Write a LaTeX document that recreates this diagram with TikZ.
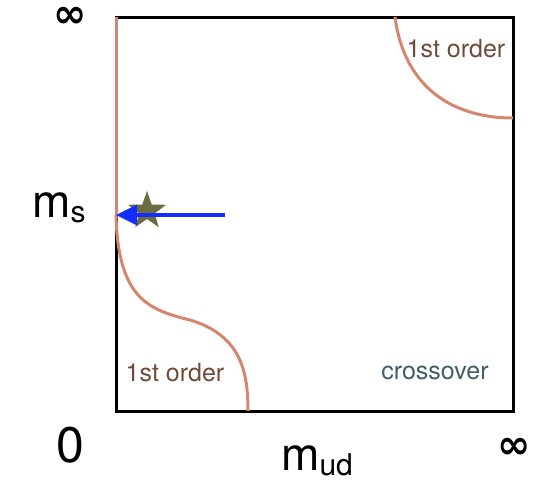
\documentclass[tikz,border=0pt]{standalone}
\usepackage{fontspec}
\setmainfont{TeX Gyre Heros}
\newfontfamily\symfont{DejaVu Sans}
\usetikzlibrary{arrows.meta,shapes.geometric}
\definecolor{linecol}{RGB}{212,134,110}
\definecolor{ordercol}{RGB}{112,74,56}
\definecolor{crosscol}{RGB}{62,94,104}
\definecolor{starcol}{RGB}{108,108,62}
\definecolor{arrowcol}{RGB}{20,45,255}
\begin{document}
\begin{tikzpicture}[x=1pt,y=-1pt,
  bigl/.style={font=\fontsize{46}{50}\selectfont, inner sep=0pt},
  inf/.style={font=\symfont\bfseries\fontsize{40}{44}\selectfont, inner sep=0pt},
  regl/.style={font=\fontsize{25}{30}\selectfont, inner sep=0pt},
  trans/.style={draw=linecol, line width=3pt}]
\useasboundingbox (0,0) rectangle (538,481);
% frame
\coordinate (tl) at (116,18);
\coordinate (br) at (513,411);
\draw[line width=3pt] (tl) rectangle (br);
% transition lines
\coordinate (ms) at (116,215);
\coordinate (topL) at (116,17);
\coordinate (botE) at (248,411);
\coordinate (trA) at (395,17);
\coordinate (trB) at (513,118);
\draw[trans] (topL) -- (ms);
\draw[trans] (ms) .. controls (118,300) and (150,310) .. (190,320)
  .. controls (240,335) and (248,370) .. (botE);
\draw[trans] (trA) .. controls (403,80) and (445,118) .. (trB);
% star and arrow
\node[star, star points=5, star point ratio=2.5, minimum size=40pt, inner sep=0pt, fill=starcol] (star) at (147,211) {};
\coordinate (arrS) at (225,215);
\coordinate (arrE) at (116,215);
\draw[arrowcol, line width=3.5pt, -{Triangle[length=21pt,width=20pt]}] (arrS) -- (arrE);
% labels
\node[inf] (inftop) at (70,17) {∞};
\node[inf] (infright) at (514,448) {∞};
\node[bigl, font=\fontsize{50}{54}\selectfont] (zero) at (70,445) {0};
\node[bigl, anchor=base west] (msl) at (32,218) {m\raisebox{-5pt}{\fontsize{30}{34}\selectfont s}};
\node[bigl, anchor=base west] (mudl) at (281,470) {m\raisebox{-5pt}{\fontsize{30}{34}\selectfont ud}};
\node[regl, text=ordercol] (o1) at (456,49) {1st order};
\node[regl, text=ordercol] (o2) at (175,373) {1st order};
\node[regl, text=crosscol] (cr) at (435,373) {crossover};
\end{tikzpicture}
\end{document}
